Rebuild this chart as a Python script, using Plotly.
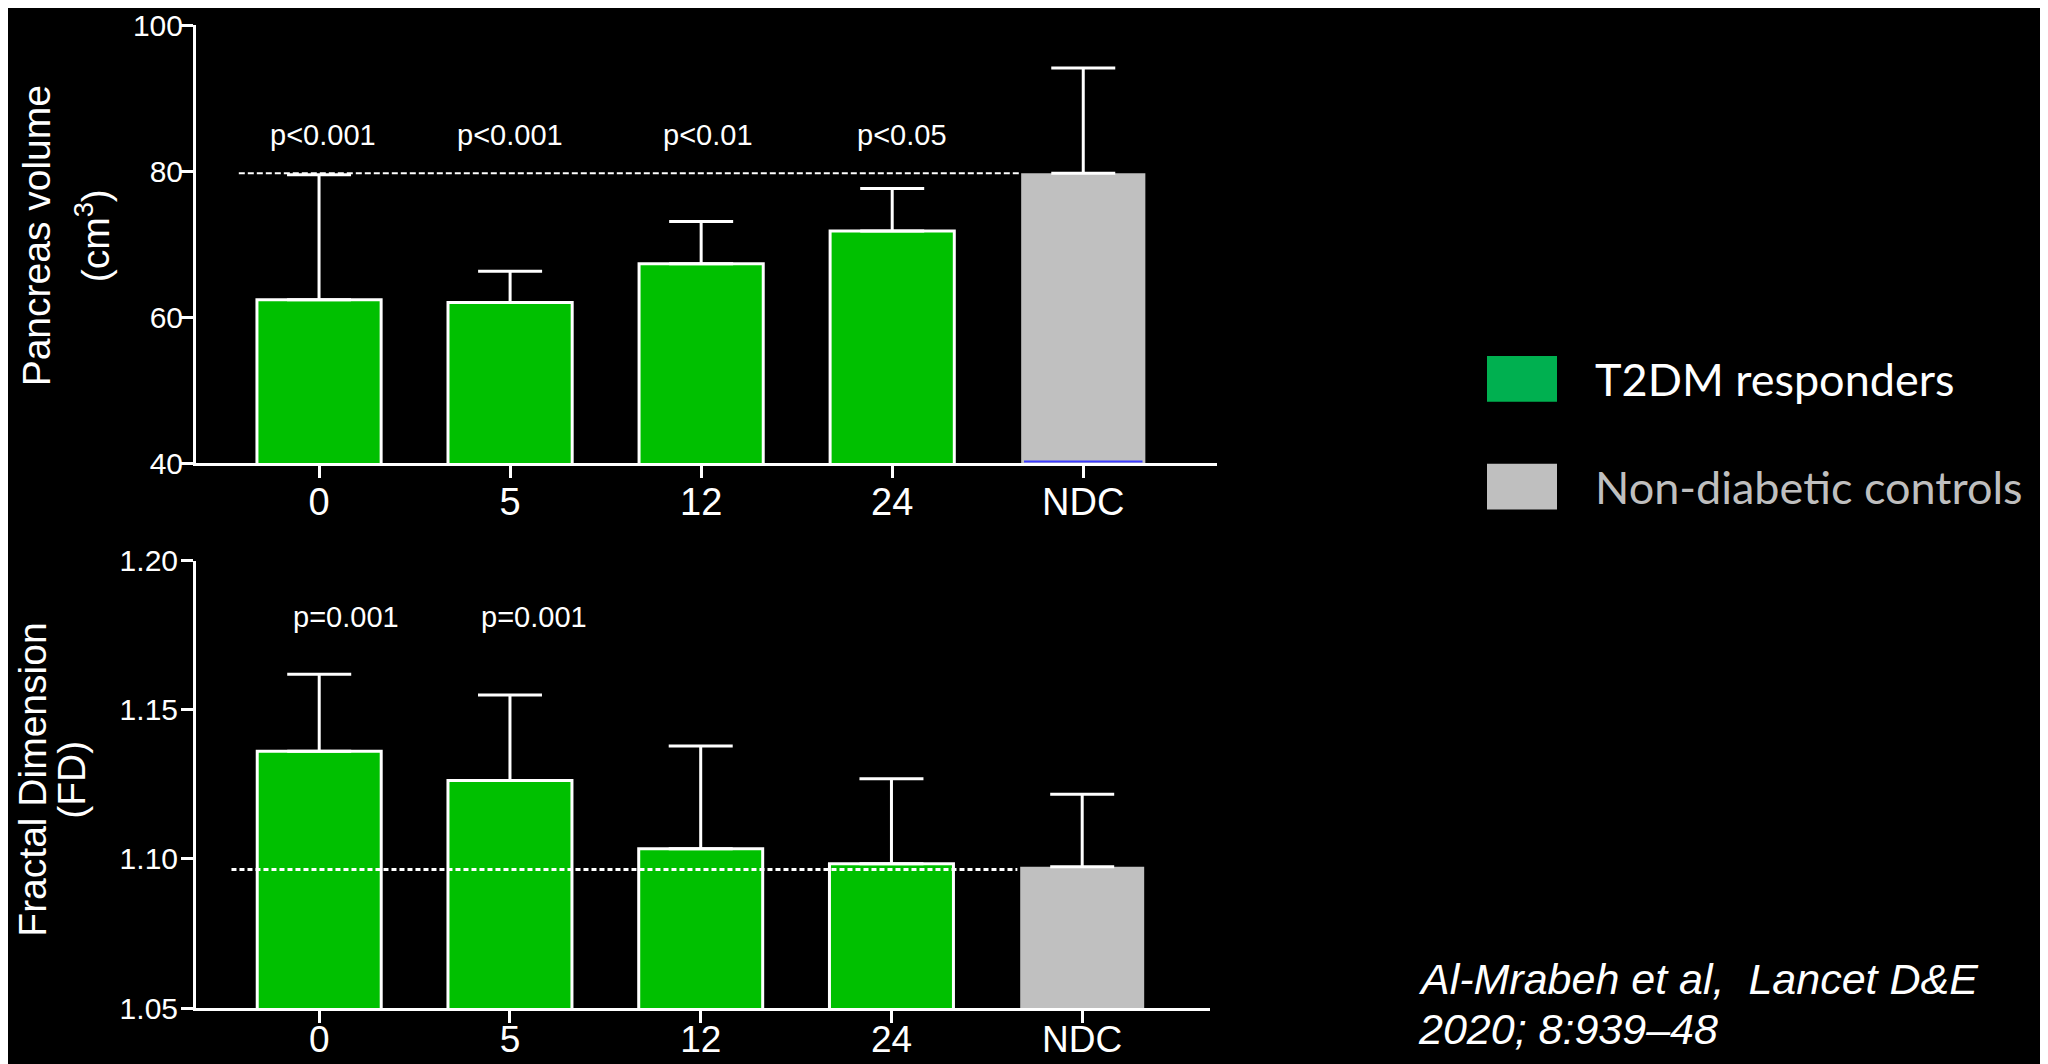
import plotly.graph_objects as go

# ---- data ----
timepoints = ["0", "5", "12", "24"]
ndc_label = ["NDC"]

vol_t2dm = [62.4, 62.0, 67.3, 71.8]
vol_t2dm_err = [17.1, 4.3, 5.8, 5.8]
vol_ndc = [79.7]
vol_ndc_err = [14.4]
vol_pvals = ["p<0.001", "p<0.001", "p<0.01", "p<0.05"]

fd_t2dm = [1.1361, 1.1263, 1.1034, 1.0984]
fd_t2dm_err = [0.0259, 0.0287, 0.0345, 0.0285]
fd_ndc = [1.0974]
fd_ndc_err = [0.0243]
fd_pvals = ["p=0.001", "p=0.001"]

legend_labels = ["T2DM responders", "Non-diabetic controls"]
citation = ["Al-Mrabeh et al,\u00a0\u00a0Lancet D&E", "2020; 8:939\u201348"]

W, H = 2048, 1064
GREEN = "#00C000"
GREY = "#C0C0C0"
FONT = "Liberation Sans, Arial, sans-serif"


def px(x):
    return x / W


def py(y):
    # map a target screen row to paper coordinates
    yd = 1.0299 * y - 24.75
    return min(1.0, max(0.0, 1 - yd / H))


fig = go.Figure()


def add_bars(xa, ya, t_vals, t_err, n_vals, n_err):
    fig.add_trace(go.Bar(
        x=timepoints, y=t_vals, xaxis=xa, yaxis=ya, width=0.65,
        marker=dict(color=GREEN, line=dict(color="white", width=3)),
        error_y=dict(type="data", array=t_err, arrayminus=[0] * len(t_err), symmetric=False,
                     color="white", thickness=3, width=32),
        showlegend=False, hoverinfo="skip"))
    fig.add_trace(go.Bar(
        x=ndc_label, y=n_vals, xaxis=xa, yaxis=ya, width=0.65,
        marker=dict(color=GREY, line=dict(width=0)),
        error_y=dict(type="data", array=n_err, arrayminus=[0], symmetric=False,
                     color="white", thickness=3, width=32),
        showlegend=False, hoverinfo="skip"))


add_bars("x", "y", vol_t2dm, vol_t2dm_err, vol_ndc, vol_ndc_err)
add_bars("x2", "y2", fd_t2dm, fd_t2dm_err, fd_ndc, fd_ndc_err)

cats = timepoints + ndc_label
axis_common = dict(showline=True, linecolor="white", linewidth=3, ticks="outside",
                   ticklen=12, tickwidth=3, tickcolor="white", showgrid=False,
                   zeroline=False, fixedrange=True)

fig.update_layout(
    width=W, height=H,
    paper_bgcolor="black", plot_bgcolor="black",
    margin=dict(l=0, r=0, t=0, b=0),
    barmode="overlay",
    font=dict(family=FONT, color="white"),
    xaxis=dict(domain=[px(188), px(1209)], anchor="y", type="category",
               categoryorder="array", categoryarray=cats, range=[-0.644, 4.70],
               ticklabelstandoff=-9,
               tickfont=dict(size=38, color="white"), **axis_common),
    yaxis=dict(domain=[py(463.6), py(21)], anchor="x", range=[40, 100], dtick=20,
               ticklabelstandoff=-8, ticklabeloverflow="allow",
               tickfont=dict(size=30, color="white"), **axis_common),
    xaxis2=dict(domain=[px(188), px(1202)], anchor="y2", type="category",
                categoryorder="array", categoryarray=cats, range=[-0.646, 4.67],
                ticklabelstandoff=-15,
                tickfont=dict(size=37, color="white"), **axis_common),
    yaxis2=dict(domain=[py(1010), py(561.5)], anchor="x2", range=[1.05, 1.20], dtick=0.05,
                tickformat=".2f", ticklabelstandoff=-3, ticklabeloverflow="allow",
                tickfont=dict(size=30, color="white"), **axis_common),
)

# reference dashed lines at NDC mean
fig.add_shape(type="line", xref="x", yref="y", x0=-0.42, x1=3.675, y0=vol_ndc[0], y1=vol_ndc[0],
              line=dict(color="white", width=2, dash="6px,3px"), layer="above")
fig.add_shape(type="line", xref="x2", yref="y2", x0=-0.46, x1=3.66, y0=fd_ndc[0] - 0.0009,
              y1=fd_ndc[0] - 0.0009, line=dict(color="white", width=3, dash="5px,3px"), layer="above")
# thin blue base line seen at the bottom of the NDC bar
fig.add_shape(type="line", xref="x", yref="y", x0=3.69, x1=4.31, y0=40.25, y1=40.25,
              line=dict(color="#3a3aff", width=2), layer="above")

# p-value annotations (x given as category index)
top_shift = [4, 0, 7, 10]
for i, txt in enumerate(vol_pvals):
    fig.add_annotation(x=i, y=84.9, xref="x", yref="y", text=txt, showarrow=False,
                       xshift=top_shift[i], font=dict(size=29, color="white", family=FONT))
bot_shift = [27, 24]
for i, txt in enumerate(fd_pvals):
    fig.add_annotation(x=i, y=1.1812, xref="x2", yref="y2", text=txt, showarrow=False,
                       xshift=bot_shift[i], font=dict(size=29, color="white", family=FONT))

# y-axis titles
titles = [("Pancreas volume", 28, 236), ("(cm<sup>3</sup>)", 84, 236),
          ("Fractal Dimension", 25, 781), ("(FD)", 64, 781)]
for txt, x, y in titles:
    fig.add_annotation(x=px(x), y=py(y), xref="paper", yref="paper", text=txt,
                       textangle=-90, showarrow=False, xanchor="center", yanchor="middle",
                       borderpad=0, font=dict(size=39, color="white", family=FONT))

# custom legend
legend_colors = ["#00B050", "#BFBFBF"]
legend_text_colors = ["white", "#BFBFBF"]
legend_boxes = [(356, 402), (464, 510)]
for lab, col, tcol, (y0, y1) in zip(legend_labels, legend_colors, legend_text_colors, legend_boxes):
    fig.add_shape(type="rect", xref="paper", yref="paper", x0=px(1479), x1=px(1549),
                  y0=py(y1), y1=py(y0), fillcolor=col, line=dict(width=0))
    fig.add_annotation(x=px(1585), y=py((y0 + y1) / 2), xref="paper", yref="paper", text=lab,
                       showarrow=False, xanchor="left", yanchor="middle",
                       font=dict(size=45, color=tcol, family="Lato, Carlito, sans-serif"))

# citation
for txt, y in zip(citation, [981, 1031]):
    fig.add_annotation(x=px(1408), y=py(y), xref="paper", yref="paper",
                       text="<i>" + txt + "</i>", showarrow=False, xanchor="left", yanchor="middle",
                       font=dict(size=43, color="white", family=FONT))

fig.write_html("out.html")
